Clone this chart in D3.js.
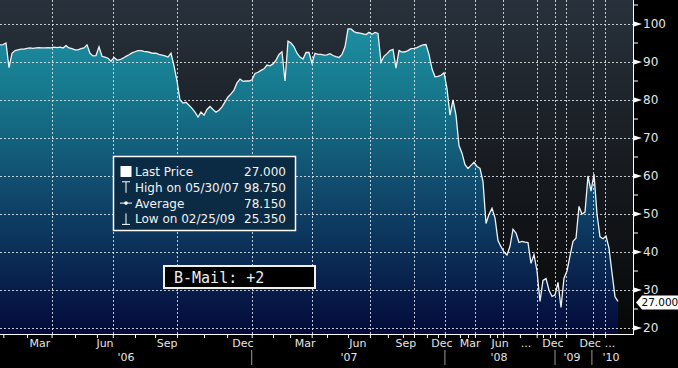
<!DOCTYPE html>
<html>
<head>
<meta charset="utf-8">
<script src="https://cdnjs.cloudflare.com/ajax/libs/d3/7.8.5/d3.min.js"></script>
<style>
body { margin: 0; background: #000; }
</style>
</head>
<body>
<div id="chart"></div>
<script>
// price observations, one per sample
var prices = [
	94.5, 94.6, 95, 88.5, 92.3, 93, 93.2, 93.4, 93.4, 93.6, 93.7, 93.6, 93.7, 93.8, 93.7, 93.7,
	93.8, 93.7, 93.9, 93.8, 93.9, 93.7, 94.3, 93.7, 93.5, 93.2, 93.2, 93.5, 93.7, 94.5, 92.3, 91.6,
	91.7, 94, 91.5, 91.3, 91, 90.2, 91.2, 90.5, 90.6, 91, 91.5, 91.9, 92.4, 92.7, 93, 93,
	92.8, 92.7, 92.5, 92.3, 92.3, 92, 91.8, 91.6, 91.3, 92.3, 89, 85, 80, 79.2, 79.4, 78.6,
	77.8, 76.8, 75.5, 76.8, 76, 77.5, 78.3, 77.5, 76.8, 77.3, 78.2, 79.5, 80.8, 81.6, 82.6, 84.5,
	85.5, 84.9, 85, 85, 85.3, 87, 87.3, 87.8, 88.2, 89.2, 89, 89.5, 90.5, 92, 92.7, 85,
	95.5, 95, 94, 92.3, 91.3, 90.8, 92.5, 92.5, 89.7, 92.3, 92, 92, 91.8, 91.9, 92.2, 91.7,
	91.4, 91.2, 92, 94, 98.7, 98.7, 98, 97.7, 97.6, 97.4, 97.2, 97.8, 97.3, 97.8, 97.5, 90,
	91.5, 92.2, 93, 93.3, 88.4, 93, 92.6, 92.7, 93, 93.5, 93.6, 93.8, 94.2, 94.5, 94.6, 92,
	88.2, 86.1, 86.2, 86.5, 87.2, 83, 76, 80, 76, 68, 66, 63, 62, 62.8, 63.6, 62.5,
	62, 58.5, 47.5, 49.9, 51.5, 49, 43, 41.4, 40, 39.2, 41.5, 46, 45, 42.5, 42.8, 42.6,
	42.5, 37, 39.3, 35, 27, 32.5, 33, 30, 28.3, 28.7, 32, 25.4, 33.1, 35, 39, 42.8,
	43.6, 52, 50, 50.5, 60, 56, 60.5, 50, 44, 43.5, 44.2, 41, 34.5, 28.2, 27
];
var lastPrice = 27.0;

// y axis
var yTicks = [20, 30, 40, 50, 60, 70, 80, 90, 100];
var yMinor = [25, 35, 45, 55, 65, 75, 85, 95, 105];

// x axis, positions given in observation index
var quarterGrid = [17.2, 37.6, 59, 83.9, 103.9, 123.3, 138, 148.3, 158.3, 167.7, 178.9, 185, 188.7, 197.7, 201.7];
var monthTicks = [1.1, 9, 25, 32.3, 45, 51.7, 68, 75.7, 91, 96.7, 109, 116, 129.3, 134.3, 142.3, 146,
	153.3, 156, 163.3, 165.7, 173.3, 181, 183.3];
var monthLabels = ["Mar", "Jun", "Sep", "Dec", "Mar", "Jun", "Sep", "Dec", "Mar", "Jun", "...", "Dec", "Dec", "..."];
var monthLabelPos = [13.3, 35, 55.7, 81, 101.7, 119.3, 135.3, 147.3, 156.7, 166.7, 175.3, 184.3, 196.7, 203.3];
var yearLabels = ["'06", "'07", "'08", "'09", "'10"];
var yearLabelPos = [42, 116.3, 166.3, 190.7, 203.7];
var yearBreaks = [83.9, 148.3, 185, 197.3];

// legend
var legendNames = ["Last Price", "High on 05/30/07", "Average", "Low on 02/25/09"];
var legendValues = ["27.000", "98.750", "78.150", "25.350"];

var width = 633, height = 334;
var font = "'DejaVu Sans', Verdana, sans-serif";

var svg = d3.select("#chart")
	.append("svg")
	.attr("width", 678)
	.attr("height", 368)
	.style("display", "block")
	.style("background", "#000");

var x = d3.scaleLinear().domain([0, 211]).range([0, width]);
var y = d3.scaleLinear().domain([20, 100]).range([328, 24]);

// gradients
var defs = svg.append("defs");
var bg = defs.append("linearGradient").attr("id", "bg")
	.attr("gradientUnits", "userSpaceOnUse")
	.attr("x1", 0).attr("y1", 0).attr("x2", 0).attr("y2", height);
bg.append("stop").attr("offset", 0).attr("stop-color", "#28313b");
bg.append("stop").attr("offset", 0.5).attr("stop-color", "#171b20");
bg.append("stop").attr("offset", 1).attr("stop-color", "#070707");

var fillGrad = defs.append("linearGradient").attr("id", "fillGrad")
	.attr("gradientUnits", "userSpaceOnUse")
	.attr("x1", 0).attr("y1", 0).attr("x2", 0).attr("y2", height);
fillGrad.append("stop").attr("offset", 0).attr("stop-color", "#1f98aa");
fillGrad.append("stop").attr("offset", 0.3).attr("stop-color", "#16758a");
fillGrad.append("stop").attr("offset", 0.6).attr("stop-color", "#0f4569");
fillGrad.append("stop").attr("offset", 1).attr("stop-color", "#040a3a");

svg.append("rect")
	.attr("width", width)
	.attr("height", height)
	.attr("fill", "url(#bg)");

// area under price
var area = d3.area()
	.x(function(d, i){ return x(i); })
	.y0(height)
	.y1(function(d){ return y(d); });

svg.append("path")
	.datum(prices)
	.attr("d", area)
	.attr("fill", "url(#fillGrad)");

// grid
svg.selectAll(".hgrid")
	.data(yTicks)
	.enter()
	.append("line")
	.attr("x1", 0).attr("x2", width)
	.attr("y1", function(d){ return Math.round(y(d)) + 0.5; })
	.attr("y2", function(d){ return Math.round(y(d)) + 0.5; })
	.attr("stroke", "#e2e8ec")
	.attr("stroke-opacity", 0.85)
	.attr("stroke-dasharray", "2,2");

svg.selectAll(".vgrid")
	.data(quarterGrid)
	.enter()
	.append("line")
	.attr("x1", function(d){ return Math.round(x(d)) + 0.5; })
	.attr("x2", function(d){ return Math.round(x(d)) + 0.5; })
	.attr("y1", 0).attr("y2", height)
	.attr("stroke", "#e2e8ec")
	.attr("stroke-opacity", 0.85)
	.attr("stroke-dasharray", "2,2");

// price line
svg.append("path")
	.datum(prices)
	.attr("d", d3.line().x(function(d, i){ return x(i); }).y(function(d){ return y(d); }))
	.attr("fill", "none")
	.attr("stroke", "#eef2f4")
	.attr("stroke-width", 1.3);

// frame lines
svg.append("line")
	.attr("x1", width + 0.5).attr("x2", width + 0.5)
	.attr("y1", 0).attr("y2", height + 1)
	.attr("stroke", "#fff");
svg.append("line")
	.attr("x1", 0).attr("x2", width + 1)
	.attr("y1", height + 0.5).attr("y2", height + 0.5)
	.attr("stroke", "#fff");

// right axis
var yAxis = svg.append("g")
	.attr("transform", "translate(" + (width + 1) + ",0)")
	.call(d3.axisRight(y).tickValues(yTicks).tickSize(0).tickPadding(9));
yAxis.select(".domain").remove();
yAxis.selectAll("text")
	.attr("fill", "#e4e4e4")
	.style("font-family", font)
	.style("font-size", "12px");

yAxis.selectAll(".tri")
	.data(yTicks)
	.enter()
	.append("path")
	.attr("d", function(d){ var t = y(d); return "M0," + (t - 2.5) + "L8," + t + "L0," + (t + 2.5) + "Z"; })
	.attr("fill", "#fff");

yAxis.selectAll(".minor")
	.data(yMinor)
	.enter()
	.append("line")
	.attr("x1", 0).attr("x2", 4)
	.attr("y1", function(d){ return y(d); })
	.attr("y2", function(d){ return y(d); })
	.attr("stroke", "#fff");

// last price callout
var ly = y(lastPrice) + 1;
svg.append("path")
	.attr("d", "M" + (width + 3) + "," + ly + "L" + (width + 9) + "," + (ly - 7) + "L678," + (ly - 7) + "L678," + (ly + 7) + "L" + (width + 9) + "," + (ly + 7) + "Z")
	.attr("fill", "#fff");
svg.append("text")
	.attr("x", width + 8.5)
	.attr("y", ly + 4)
	.attr("fill", "#000")
	.style("font-family", font)
	.style("font-size", "10.5px")
	.text(lastPrice.toFixed(3));

// bottom axis ticks
var xAxis = svg.append("g")
	.attr("transform", "translate(0," + (height + 1) + ")")
	.call(d3.axisBottom(x).tickValues(monthTicks.concat(quarterGrid)).tickSize(3).tickFormat(""));
xAxis.select(".domain").remove();
xAxis.selectAll("line").attr("stroke", "#fff");

svg.selectAll(".mlabel")
	.data(monthLabels)
	.enter()
	.append("text")
	.attr("x", function(d, i){ return x(monthLabelPos[i]); })
	.attr("y", 347)
	.attr("text-anchor", "middle")
	.attr("fill", "#e4e4e4")
	.style("font-family", font)
	.style("font-size", "11px")
	.text(function(d){ return d; });

svg.selectAll(".ylabel")
	.data(yearLabels)
	.enter()
	.append("text")
	.attr("x", function(d, i){ return x(yearLabelPos[i]); })
	.attr("y", 361)
	.attr("text-anchor", "middle")
	.attr("fill", "#e4e4e4")
	.style("font-family", font)
	.style("font-size", "11px")
	.text(function(d){ return d; });

svg.selectAll(".ybreak")
	.data(yearBreaks)
	.enter()
	.append("line")
	.attr("x1", function(d){ return x(d); })
	.attr("x2", function(d){ return x(d); })
	.attr("y1", 350).attr("y2", 365)
	.attr("stroke", "#9a9a9a");

// legend
var legend = svg.append("g");
legend.append("rect")
	.attr("x", 113.5).attr("y", 156.5)
	.attr("width", 182).attr("height", 74)
	.attr("fill", "#0b2a43")
	.attr("stroke", "#fff")
	.attr("stroke-width", 1.5);

var rowY = function(i){ return 171.5 + i * 15.8; };

legend.selectAll(".lname")
	.data(legendNames)
	.enter()
	.append("text")
	.attr("x", 135)
	.attr("y", function(d, i){ return rowY(i) + 4.5; })
	.attr("fill", "#f2f2f2")
	.style("font-family", font)
	.style("font-size", "12px")
	.text(function(d){ return d; });

legend.selectAll(".lval")
	.data(legendValues)
	.enter()
	.append("text")
	.attr("x", 286)
	.attr("y", function(d, i){ return rowY(i) + 4.5; })
	.attr("text-anchor", "end")
	.attr("fill", "#f2f2f2")
	.style("font-family", font)
	.style("font-size", "12px")
	.text(function(d){ return d; });

// legend icons
legend.append("rect")
	.attr("x", 120.5).attr("y", rowY(0) - 5.5)
	.attr("width", 11).attr("height", 11)
	.attr("fill", "#fff");
legend.append("path")
	.attr("d", "M122," + (rowY(1) - 5.5) + "H130M126," + (rowY(1) - 5.5) + "V" + (rowY(1) + 5.5))
	.attr("stroke", "#fff").attr("fill", "none");
legend.append("path")
	.attr("d", "M120," + rowY(2) + "H132")
	.attr("stroke", "#fff").attr("fill", "none");
legend.append("circle")
	.attr("cx", 126).attr("cy", rowY(2)).attr("r", 1.8)
	.attr("fill", "#fff");
legend.append("path")
	.attr("d", "M126," + (rowY(3) - 5.5) + "V" + (rowY(3) + 5.5) + "M122," + (rowY(3) + 5.5) + "H130")
	.attr("stroke", "#fff").attr("fill", "none");

// b-mail box
svg.append("rect")
	.attr("x", 164).attr("y", 266)
	.attr("width", 151).attr("height", 22)
	.attr("fill", "#000")
	.attr("stroke", "#f0f0f0")
	.attr("stroke-width", 2);
svg.append("text")
	.attr("x", 174)
	.attr("y", 283)
	.attr("fill", "#ececec")
	.style("font-family", "'DejaVu Sans Mono', monospace")
	.style("font-size", "15px")
	.text("B-Mail: +2");
</script>
</body>
</html>
